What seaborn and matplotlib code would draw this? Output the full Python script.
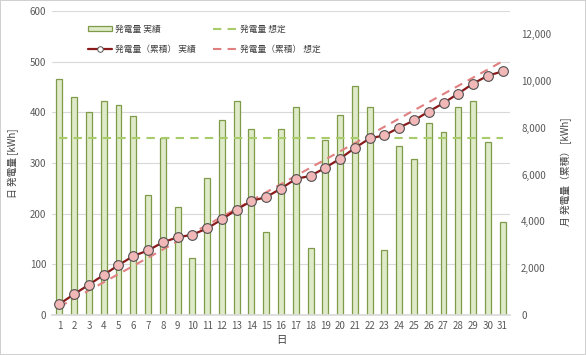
import matplotlib
matplotlib.use("Agg")
import matplotlib.pyplot as plt
from matplotlib.lines import Line2D
from matplotlib.patches import Patch
import seaborn as sns
import pandas as pd

days = list(range(1, 32))
daily_actual = [465, 430, 400, 422, 414, 392, 237, 349, 213, 112,
                270, 385, 422, 367, 164, 367, 410, 132, 345, 394,
                452, 410, 129, 334, 307, 379, 361, 410, 422, 341, 183]
daily_plan = [350] * 31
cum_actual = [465, 895, 1295, 1717, 2131, 2523, 2760, 3109, 3322, 3434,
              3704, 4089, 4511, 4878, 5042, 5409, 5819, 5951, 6296, 6690,
              7142, 7552, 7681, 8015, 8322, 8701, 9062, 9472, 9894, 10235, 10418]
cum_plan = [350, 700, 1050, 1400, 1750, 2100, 2450, 2800, 3150, 3500,
            3850, 4200, 4550, 4900, 5250, 5600, 5950, 6300, 6650, 7000,
            7350, 7700, 8050, 8400, 8750, 9100, 9450, 9800, 10150, 10500, 10850]
legend_labels = ["発電量 実績", "発電量 想定", "発電量（累積） 実績", "発電量（累積） 想定"]
left_ticks = [0, 100, 200, 300, 400, 500, 600]
right_ticks = [0, 2000, 4000, 6000, 8000, 10000, 12000]

df = pd.DataFrame({"day": days, "actual": daily_actual, "plan": daily_plan,
                   "cum_actual": cum_actual, "cum_plan": cum_plan})

sns.set_theme(style="white")
plt.rcParams['font.family'] = ['Noto Sans CJK JP', 'DejaVu Sans']

bar_face = "#dfebc8"
bar_edge = "#7f9a48"
green_dash = "#a9cc6b"
red_line = "#8b1a1a"
pink_dash = "#e08080"
pink_face = "#f2b8b8"
tick_col = "#595959"

fig = plt.figure(figsize=(5.86, 3.55), dpi=100)
fig.patch.set_edgecolor("#d0d0d0")
fig.patch.set_linewidth(1.2)
ax = fig.add_axes([52/586, 40/355, 458/586, 304/355])

sns.barplot(data=df, x="day", y="actual", native_scale=True, width=0.4,
            color=bar_face, edgecolor=bar_edge, linewidth=0.9, saturation=1, ax=ax, zorder=2)
sns.lineplot(data=df, x="day", y="plan", ax=ax, color=green_dash, linestyle=(0, (4, 3)),
             linewidth=1.5, zorder=3)

ax.set_xlim(0.5, 31.5)
ax.set_ylim(0, 600)
ax.set_yticks(left_ticks)
ax.set_xticks(days)
ax.set_xticklabels([str(d) for d in days])
ax.grid(axis="y", color="#d9d9d9", linewidth=0.8, zorder=0)
ax.set_axisbelow(True)
for s in ["left", "right", "top"]:
    ax.spines[s].set_visible(False)
ax.spines["bottom"].set_color("#d9d9d9")
ax.tick_params(axis="both", labelsize=7, colors=tick_col, length=0, pad=4)
ax.set_xlabel("日", fontsize=7.5, color="#404040", labelpad=3)
ax.set_ylabel("日 発電量 [kWh]", fontsize=7, color="#404040", labelpad=8)

ax2 = ax.twinx()
sns.lineplot(data=df, x="day", y="cum_plan", ax=ax2, color=pink_dash, linestyle=(0, (4, 3)),
             linewidth=1.5, zorder=3)
sns.lineplot(data=df, x="day", y="cum_actual", ax=ax2, color=red_line, linewidth=1.6,
             marker="o", markersize=7, markerfacecolor=pink_face, markeredgecolor="#505050",
             markeredgewidth=0.8, zorder=4)
ax2.set_ylim(0, 13000)
ax2.set_yticks(right_ticks)
ax2.set_yticklabels([f"{v:,}" for v in right_ticks])
ax2.grid(False)
for s in ["left", "right", "top", "bottom"]:
    ax2.spines[s].set_visible(False)
ax2.tick_params(axis="y", labelsize=7, colors=tick_col, length=0, pad=8)
ax2.set_ylabel("月 発電量（累積） [kWh]", fontsize=7, color="#404040", rotation=90)
ax2.yaxis.set_label_coords(1.11, 0.47)

handles = [
    Patch(facecolor=bar_face, edgecolor=bar_edge, linewidth=0.9),
    Line2D([], [], color=green_dash, linestyle=(0, (4, 3)), linewidth=1.5),
    Line2D([], [], color=red_line, linewidth=1.6, marker="o", markersize=4,
           markerfacecolor="white", markeredgecolor="#505050", markeredgewidth=0.7),
    Line2D([], [], color=pink_dash, linestyle=(0, (4, 3)), linewidth=1.5),
]
order = [0, 2, 1, 3]
leg = ax2.legend([handles[i] for i in order], [legend_labels[i] for i in order],
                 ncol=2, loc="upper left", bbox_to_anchor=(0.078, 0.955), frameon=False,
                 borderpad=0, borderaxespad=0,
                 fontsize=6.3, handlelength=2.8, handleheight=0.6, columnspacing=2.0,
                 labelspacing=1.3, handletextpad=0.3, labelcolor="#404040")

fig.savefig("out.png", dpi=100)
